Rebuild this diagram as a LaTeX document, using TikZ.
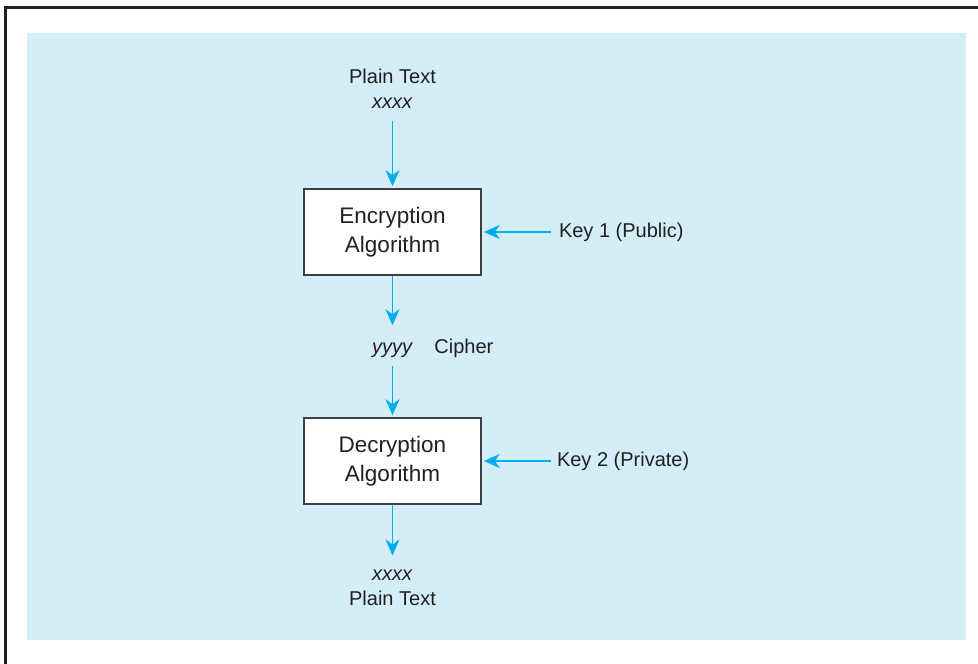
\documentclass[tikz,border=0pt]{standalone}
\usepackage{fontspec}
\setmainfont{Liberation Sans}
\usetikzlibrary{arrows.meta,positioning}
\definecolor{panelblue}{RGB}{211,237,249}
\definecolor{flowcyan}{RGB}{0,174,239}
\definecolor{boxgray}{RGB}{64,64,66}
\definecolor{inkgray}{RGB}{35,31,32}
\tikzset{
  algbox/.style={draw=boxgray, line width=1.6pt, fill=white, align=center, minimum width=177pt, minimum height=86pt, text=inkgray, font=\fontsize{22.5}{28.5}\selectfont},
  lbl/.style={align=center, inner sep=0pt, text=inkgray, font=\fontsize{20}{25}\selectfont},
  flow/.style={draw=flowcyan, line width=1.9pt, -{Stealth[length=16pt,width=14pt,inset=5pt]}}
}
\begin{document}
\begin{tikzpicture}[x=1pt,y=1pt]
  \useasboundingbox (0,0) rectangle (978,664);
  \draw[line width=2.6pt, inkgray] (5.3,-20) -- (5.3,656.7) -- (1000,656.7);
  \fill[panelblue] (27,24) rectangle (966,631);

  \node[algbox] (enc) at (392.5,432) {Encryption\\Algorithm};
  \node[algbox] (dec) at (392.5,203) {Decryption\\Algorithm};
  \node[lbl] (pin) at (392.5,575.5) {Plain Text\\\textit{xxxx}};
  \node[lbl, anchor=base] (ctext) at (392.5,310) {\textit{yyyy}};
  \node[lbl, anchor=base west] (cipher) at ([xshift=21pt]ctext.base east) {Cipher};
  \node[lbl] (pout) at (392.5,76.5) {\textit{xxxx}\\Plain Text};
  \node[lbl, right=77pt of enc] (key1) {Key 1 (Public)};
  \node[lbl, right=75pt of dec] (key2) {Key 2 (Private)};

  \draw[flow, shorten <=13pt, shorten >=2pt] (pin) -- (enc);
  \draw[flow, shorten >=18pt] (enc) -- (ctext);
  \draw[flow, shorten <=8pt, shorten >=2pt] (ctext) -- (dec);
  \draw[flow, shorten >=14pt] (dec) -- (pout);
  \draw[flow, shorten <=8pt, shorten >=2pt] (key1) -- (enc);
  \draw[flow, shorten <=6pt, shorten >=2pt] (key2) -- (dec);
\end{tikzpicture}
\end{document}
